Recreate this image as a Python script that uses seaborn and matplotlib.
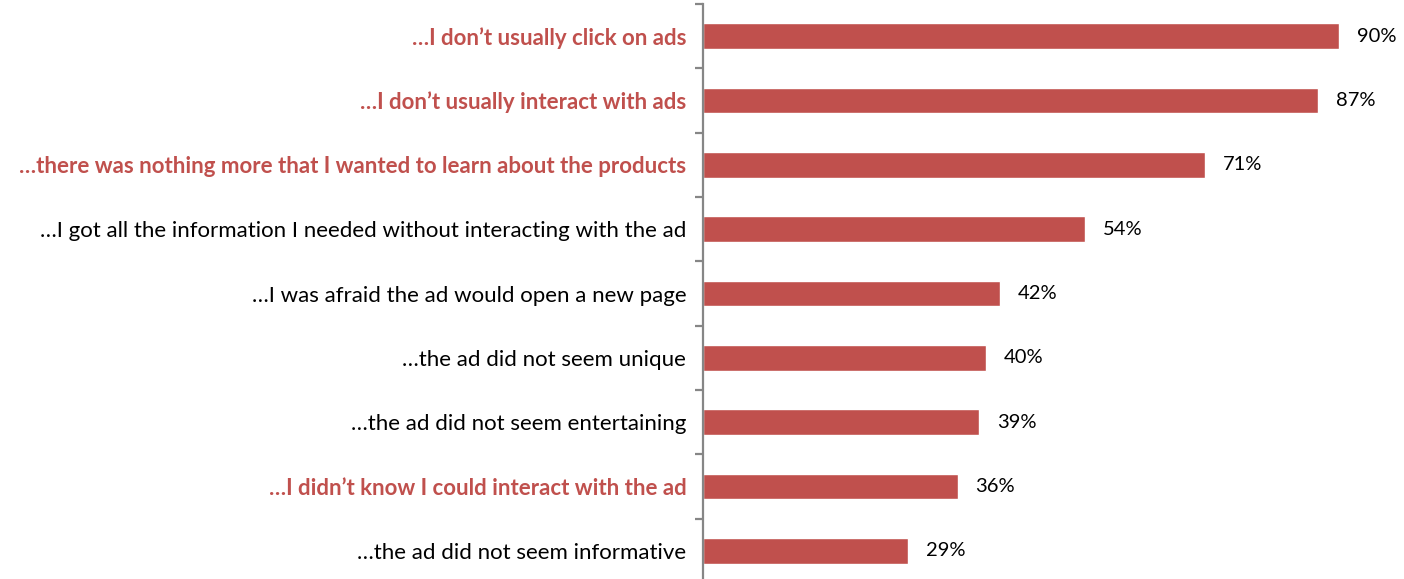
import matplotlib
matplotlib.use("Agg")
import matplotlib.pyplot as plt
import seaborn as sns
import pandas as pd
import numpy as np

reasons = [
    "\u2026I don\u2019t usually click on ads",
    "\u2026I don\u2019t usually interact with ads",
    "\u2026there was nothing more that I wanted to learn about the products",
    "\u2026I got all the information I needed without interacting with the ad",
    "\u2026I was afraid the ad would open a new page",
    "\u2026the ad did not seem unique",
    "\u2026the ad did not seem entertaining",
    "\u2026I didn\u2019t know I could interact with the ad",
    "\u2026the ad did not seem informative",
]
shares = [90, 87, 71, 54, 42, 40, 39, 36, 29]
highlighted = [True, True, True, False, False, False, False, True, False]

BAR = "#C0504D"
AXIS = "#868686"

sns.set_theme(style="white")
plt.rcParams["font.family"] = ["Lato", "DejaVu Sans"]

df = pd.DataFrame({"reason": reasons, "share": shares})

fig = plt.figure(figsize=(14.04, 5.79), dpi=100)
ax = fig.add_axes([703 / 1404, -4.1 / 579, 700 / 1404, 579 / 579])

sns.barplot(data=df, y="reason", x="share", color=BAR, saturation=1,
            width=0.4, orient="h", ax=ax)

ax.set_xlim(0, 700 / 7.07)
ax.set_ylim(len(reasons) - 0.5, -0.5)
ax.set_xlabel("")
ax.set_ylabel("")
ax.set_xticks([])

for side in ("top", "right", "bottom"):
    ax.spines[side].set_visible(False)
ax.spines["left"].set_color(AXIS)
ax.spines["left"].set_linewidth(1.6)

# labels at the bar centres, tick marks between categories
ax.set_yticks(np.arange(len(reasons)))
ax.set_yticklabels(reasons)
ax.tick_params(axis="y", which="major", length=0, pad=12, labelsize=16)
ax.set_yticks(np.arange(len(reasons) + 1) - 0.5, minor=True)
ax.tick_params(axis="y", which="minor", left=True, length=6, width=1.6,
               color=AXIS, direction="out")

for lbl, hl in zip(ax.get_yticklabels(), highlighted):
    if hl:
        lbl.set_color(BAR)
        lbl.set_fontweight("bold")
    else:
        lbl.set_color("black")

for i, v in enumerate(shares):
    ax.annotate(f"{v}%", xy=(v, i), xytext=(13, 0), textcoords="offset points",
                va="center", ha="left", fontsize=14.5, color="black")

fig.savefig("out.png", dpi=100)
